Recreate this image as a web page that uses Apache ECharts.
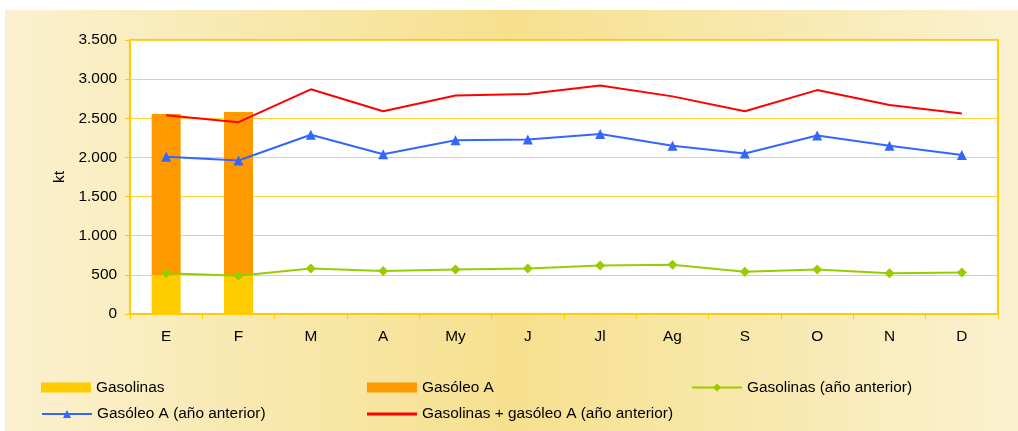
<!DOCTYPE html>
<html><head><meta charset="utf-8">
<script src="https://cdn.jsdelivr.net/npm/echarts@6/dist/echarts.min.js"></script>
<style>html,body{margin:0;padding:0;background:#fff}#c{width:1018px;height:431px}</style>
</head><body><div id="c"></div>
<script>
const categories = ['E','F','M','A','My','J','Jl','Ag','S','O','N','D'];
const gasolinas = [495, 490, null, null, null, null, null, null, null, null, null, null];
const gasoleoA = [2060, 2090, null, null, null, null, null, null, null, null, null, null];
const gasolinasPrev = [520, 490, 580, 550, 570, 580, 620, 630, 540, 570, 520, 530];
const gasoleoPrev = [2010, 1960, 2290, 2040, 2220, 2230, 2300, 2150, 2050, 2280, 2150, 2030];
const totalPrev = [2540, 2450, 2870, 2590, 2790, 2810, 2920, 2780, 2590, 2860, 2670, 2560];
const yTicks = [0, 500, 1000, 1500, 2000, 2500, 3000, 3500];

const font = 'Liberation Sans, Arial, sans-serif';
const fs = 15.4;
const chart = echarts.init(document.getElementById('c'), null, {renderer:'canvas'});
const fmt = v => String(v).replace(/\B(?=(\d{3})+(?!\d))/g, '.');
const legendBase = {orient:'horizontal', padding:0, itemWidth:50, itemHeight:10, itemGap:4,
  textStyle:{fontFamily:font, fontSize:fs, color:'#000'}};
chart.setOption({
  animation:false,
  graphic:[{type:'rect', z:-10, silent:true, shape:{x:5,y:10,width:1013,height:421},
    style:{fill:new echarts.graphic.LinearGradient(0,0,1,0,[
      {offset:0,color:'#FBF1D0'},{offset:0.5,color:'#F6E08E'},{offset:1,color:'#FBF1D0'}])}}],
  grid:{left:130, top:40, right:20, bottom:117, show:true, backgroundColor:'#fff', borderColor:'#FFCC00', borderWidth:2},
  xAxis:{type:'category', data:categories, boundaryGap:true,
    axisLine:{show:true, lineStyle:{color:'#FFCC00', width:2}},
    axisTick:{show:true, length:5, lineStyle:{color:'#FFCC00'}},
    axisLabel:{fontFamily:font, fontSize:fs, color:'#000', margin:15}},
  yAxis:{type:'value', min:yTicks[0], max:yTicks[yTicks.length-1], interval:yTicks[1]-yTicks[0], name:'kt', nameLocation:'middle', nameGap:62,
    nameTextStyle:{fontFamily:font, fontSize:fs, color:'#000'},
    axisLine:{show:true, lineStyle:{color:'#FFCC00', width:2}},
    axisTick:{show:true, length:5, lineStyle:{color:'#FFCC00'}},
    splitLine:{lineStyle:{color:'#FFD633', width:1}},
    axisLabel:{fontFamily:font, fontSize:fs, color:'#000', margin:13, formatter:v=>fmt(v)}},
  legend:[
    Object.assign({}, legendBase, {left:41, top:380, data:[{name:'Gasolinas', icon:'rect'}]}),
    Object.assign({}, legendBase, {left:367, top:380, data:[{name:'Gasóleo A', icon:'rect'}]}),
    Object.assign({}, legendBase, {left:691, top:380, data:['Gasolinas (año anterior)']}),
    Object.assign({}, legendBase, {left:41, top:406.5, data:['Gasóleo A (año anterior)']}),
    Object.assign({}, legendBase, {left:367, top:406.5, itemHeight:3, data:[{name:'Gasolinas + gasóleo A (año anterior)', icon:'rect'}]})
  ],
  series:[
    {name:'Gasolinas', type:'bar', stack:'a', data:gasolinas, barWidth:29, itemStyle:{color:'#FFCC00'}},
    {name:'Gasóleo A', type:'bar', stack:'a', data:gasoleoA, barWidth:29, itemStyle:{color:'#FF9900'}},
    {name:'Gasolinas (año anterior)', type:'line', data:gasolinasPrev, symbol:'diamond', symbolSize:10,
      lineStyle:{color:'#99CC00', width:2}, itemStyle:{color:'#99CC00'}},
    {name:'Gasóleo A (año anterior)', type:'line', data:gasoleoPrev, symbol:'triangle', symbolSize:10,
      lineStyle:{color:'#3366FF', width:2}, itemStyle:{color:'#3366FF'}},
    {name:'Gasolinas + gasóleo A (año anterior)', type:'line', data:totalPrev, symbol:'none',
      lineStyle:{color:'#FF0000', width:2}, itemStyle:{color:'#FF0000'}}
  ]
});
</script></body></html>
